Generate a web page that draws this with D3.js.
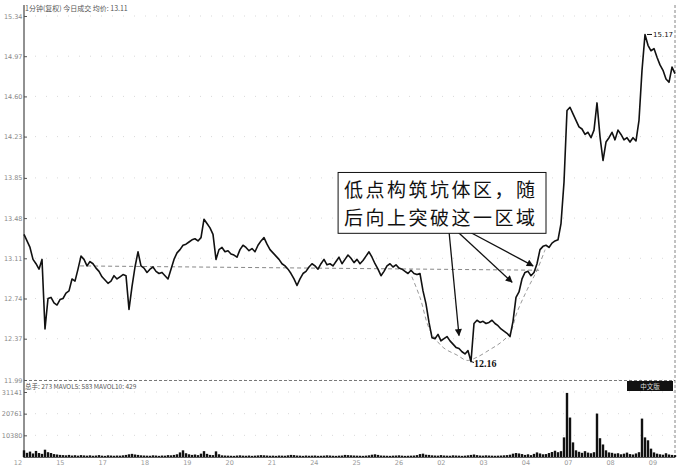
<!DOCTYPE html>
<html><head><meta charset="utf-8">
<script src="https://cdn.jsdelivr.net/npm/d3@7"></script>
<style>body{margin:0;background:#fff}svg{display:block}</style>
</head><body>
<svg id="c" width="682" height="471"></svg>
<script>
// ---- data ----
const priceData = [
13.33,13.27,13.21,13.10,13.06,13.01,13.10,12.46,12.74,12.75,
12.70,12.68,12.73,12.74,12.79,12.81,12.92,12.90,13.01,13.13,
13.10,13.04,13.08,13.06,13.02,12.99,12.94,12.91,12.88,12.90,
12.95,12.92,12.94,12.96,12.95,12.64,12.85,13.03,13.17,13.04,
13.02,12.98,13.01,13.03,12.99,12.97,12.98,12.95,12.92,13.01,
13.10,13.16,13.19,13.23,13.24,13.26,13.28,13.29,13.27,13.30,
13.47,13.43,13.39,13.33,13.10,13.19,13.21,13.17,13.18,13.15,
13.14,13.12,13.19,13.23,13.21,13.18,13.20,13.17,13.23,13.27,
13.30,13.24,13.19,13.16,13.13,13.10,13.06,13.04,13.01,12.97,
12.92,12.86,12.92,12.97,12.99,13.03,13.06,13.04,13.01,13.06,
13.10,13.05,13.06,13.04,13.08,13.12,13.06,13.10,13.14,13.11,
13.07,13.10,13.06,13.09,13.13,13.17,13.12,13.06,13.01,12.95,
12.99,13.04,13.06,13.03,13.05,13.02,13.01,12.99,12.97,13.00,
12.97,12.96,12.97,12.81,12.69,12.52,12.38,12.37,12.41,12.35,
12.37,12.39,12.35,12.32,12.29,12.28,12.25,12.23,12.26,12.16,
12.51,12.54,12.52,12.53,12.51,12.52,12.54,12.51,12.49,12.46,
12.44,12.42,12.39,12.53,12.75,12.80,12.92,12.98,12.99,12.95,
12.98,13.06,13.19,13.22,13.23,13.21,13.25,13.27,13.28,13.43,
13.81,14.47,14.50,14.44,14.38,14.32,14.30,14.25,14.27,14.22,
14.29,14.54,14.23,14.01,14.18,14.22,14.27,14.20,14.29,14.25,
14.20,14.22,14.18,14.22,14.19,14.38,14.84,15.17,15.07,15.02,
15.04,14.96,14.89,14.84,14.76,14.73,14.87,14.81
];
const volumeData = [
3200,2000,2600,1700,2900,1900,1500,3500,2300,1900,
1400,1200,1000,900,800,1000,700,850,650,900,
750,650,800,600,700,900,650,550,800,700,
600,700,650,800,1000,1300,1500,1200,1000,800,
700,650,600,800,700,550,700,650,900,800,
1000,1300,2200,3200,1800,1300,1000,1200,900,1600,
2800,1500,1000,900,2700,1300,800,700,650,600,
550,700,800,650,600,700,550,650,750,900,
800,700,600,650,550,700,650,600,800,1000,
900,700,650,550,700,600,650,700,550,600,
650,800,700,600,550,650,700,1000,900,800,
700,650,600,550,650,800,1100,1300,1000,700,
650,600,550,650,700,800,650,550,600,650,
700,900,1400,1600,1100,1000,800,700,650,900,
700,650,600,800,700,650,550,650,800,1000,
1200,900,700,650,800,700,650,600,650,700,
800,900,1100,1600,1900,1700,1400,1000,1300,900,
1500,2200,1700,1300,1400,1900,2400,3000,2300,2800,
9400,30700,18900,7000,3200,2500,2000,2800,2100,1800,
2300,20800,9000,6000,3200,2200,2000,1600,1800,1300,
1600,2100,1400,1200,1700,2300,18400,9400,8000,4000,
2200,1600,1300,1100,1800,1200,1000,900
];
const priceTicks = [15.34,14.97,14.60,14.23,13.85,13.48,13.11,12.74,12.37,11.99];
const volTicks = [31141,20761,10380];
const dayLabels = ["12","15","17","18","19","20","21","24","25","26","02","03","04","07","08","09"];
const samplesPerDay = 14.11, firstDayOffset = -2;
const refLine = [[18.7,13.04],[172.7,13.00]];
const cupCurve = [[129.3,12.94],[132,12.75],[135.3,12.45],[139.7,12.29],[144.3,12.22],[147.7,12.17],[151,12.20],[155.3,12.27],[158.7,12.33],[162,12.42],[164.3,12.61],[167.7,12.82],[171,13.00],[173.7,13.19]];
const noteLines = ["低点构筑坑体区，随","后向上突破这一区域"];
const noteBox = {i0:104.7, i1:174, p0:13.90, p1:13.34};
const arrows = [[[141.7,13.35],[145,12.40]],[[144.7,13.35],[162.7,12.89]],[[148.7,13.35],[169.7,13.04]]];
const headerText = "1分钟(复权) 今日成交 均价: 13.11";
const volHeader = "总手: 273 MAVOL5: 583 MAVOL10: 429";

// ---- drawing ----
const svg = d3.select("#c");
const L = 24, R = 675;
const x = d3.scaleLinear().domain([0, priceData.length-1]).range([L, R]);
const y = d3.scaleLinear().domain([11.99, 15.34]).range([380, 16]);
const yv = d3.scaleLinear().domain([0, 31141]).range([457, 392]);

// faint dotted grid
svg.append("g").selectAll("line").data(priceTicks).join("line")
  .attr("x1", L).attr("x2", R).attr("y1", d=>y(d)).attr("y2", d=>y(d))
  .attr("stroke", "#c8c8c8").attr("stroke-width", 0.7).attr("stroke-dasharray", "1,10");
svg.append("g").selectAll("line").data(volTicks).join("line")
  .attr("x1", L).attr("x2", R).attr("y1", d=>yv(d)).attr("y2", d=>yv(d))
  .attr("stroke", "#c8c8c8").attr("stroke-width", 0.7).attr("stroke-dasharray", "1,10");

// frame
svg.append("line").attr("x1", L).attr("x2", L).attr("y1", 5).attr("y2", 458).attr("stroke", "#222").attr("stroke-width", 1);
svg.append("line").attr("x1", R).attr("x2", R).attr("y1", 5).attr("y2", 458).attr("stroke", "#666").attr("stroke-width", 0.8).attr("stroke-dasharray", "3,2");
svg.append("line").attr("x1", L).attr("x2", R).attr("y1", 380.5).attr("y2", 380.5).attr("stroke", "#555").attr("stroke-width", 0.8).attr("stroke-dasharray", "3,2");
svg.append("line").attr("x1", L).attr("x2", R).attr("y1", 457.5).attr("y2", 457.5).attr("stroke", "#333").attr("stroke-width", 0.8);

// y axes
const ya = svg.append("g").attr("transform", `translate(${L},0)`)
  .call(d3.axisLeft(y).tickValues(priceTicks).tickFormat(d3.format(".2f")).tickSize(-3));
ya.select(".domain").remove();
ya.selectAll("line").attr("stroke", "#555");
ya.selectAll("text").attr("font-family", "DejaVu Sans").attr("font-size", 6.5).attr("fill", "#888").attr("x", -1.5);
const yva = svg.append("g").attr("transform", `translate(${L},0)`)
  .call(d3.axisLeft(yv).tickValues(volTicks).tickFormat(d3.format("d")).tickSize(-3));
yva.select(".domain").remove();
yva.selectAll("line").attr("stroke", "#555");
yva.selectAll("text").attr("font-family", "DejaVu Sans").attr("font-size", 6.5).attr("fill", "#888").attr("x", -1.5);

// x labels
svg.append("g").selectAll("text").data(dayLabels).join("text")
  .attr("x", (d,i)=>x(firstDayOffset + i*samplesPerDay)).attr("y", 465)
  .attr("text-anchor", "middle").attr("font-family", "DejaVu Sans").attr("font-size", 6.5).attr("fill", "#999").text(d=>d);

// headers
svg.append("text").attr("x", 25).attr("y", 11).attr("font-family", "Noto Sans CJK SC").attr("font-size", 7).attr("fill", "#555").text(headerText);
svg.append("text").attr("x", 25).attr("y", 389).attr("font-family", "Noto Sans CJK SC").attr("font-size", 6.5).attr("fill", "#555").text(volHeader);
svg.append("rect").attr("x", 627).attr("y", 381).attr("width", 46).attr("height", 10).attr("fill", "#111");
svg.append("text").attr("x", 650).attr("y", 389).attr("text-anchor", "middle").attr("font-family", "Noto Sans CJK SC").attr("font-size", 6.5).attr("fill", "#ddd").text("中文版");

// volume bars
svg.append("g").selectAll("rect").data(volumeData).join("rect")
  .attr("x", (d,i)=>x(i)-1.2).attr("width", 2.4)
  .attr("y", d=>yv(d)).attr("height", d=>457-yv(d)).attr("fill", "#111");

// reference dashed lines
svg.append("path").datum(refLine).attr("fill", "none").attr("stroke", "#888").attr("stroke-width", 1).attr("stroke-dasharray", "4,3")
  .attr("d", d3.line().x(d=>x(d[0])).y(d=>y(d[1])));
svg.append("path").datum(cupCurve).attr("fill", "none").attr("stroke", "#999").attr("stroke-width", 1).attr("stroke-dasharray", "4,3")
  .attr("d", d3.line().curve(d3.curveCatmullRom).x(d=>x(d[0])).y(d=>y(d[1])));

// price line
svg.append("path").datum(priceData).attr("fill", "none").attr("stroke", "#111").attr("stroke-width", 1.6).attr("stroke-linejoin", "round")
  .attr("d", d3.line().x((d,i)=>x(i)).y(d=>y(d)));

// high/low labels
const hiI = d3.maxIndex(priceData), loI = d3.minIndex(priceData);
svg.append("line").attr("x1", x(hiI)+2).attr("x2", x(hiI)+7).attr("y1", y(priceData[hiI])).attr("y2", y(priceData[hiI])).attr("stroke", "#111");
svg.append("text").attr("x", x(hiI)+8).attr("y", y(priceData[hiI])+3).attr("font-family", "DejaVu Sans").attr("font-size", 7).attr("fill", "#111").text(priceData[hiI].toFixed(2));
svg.append("line").attr("x1", x(loI)).attr("x2", x(loI)+3).attr("y1", y(priceData[loI])).attr("y2", y(priceData[loI])+1).attr("stroke", "#111");
svg.append("text").attr("x", x(loI)+3).attr("y", y(priceData[loI])+5).attr("font-family", "Liberation Serif").attr("font-weight", "bold").attr("font-size", 10).attr("fill", "#111").text(priceData[loI].toFixed(2));

// annotation
const defs = svg.append("defs");
defs.append("marker").attr("id", "ah").attr("viewBox", "0 0 10 10").attr("refX", 9).attr("refY", 5)
  .attr("markerWidth", 9).attr("markerHeight", 7).attr("orient", "auto-start-reverse").attr("markerUnits", "userSpaceOnUse")
  .append("path").attr("d", "M0,0 L10,5 L0,10 z").attr("fill", "#111");
svg.append("g").selectAll("line").data(arrows).join("line")
  .attr("x1", d=>x(d[0][0])).attr("y1", d=>y(d[0][1])).attr("x2", d=>x(d[1][0])).attr("y2", d=>y(d[1][1]))
  .attr("stroke", "#111").attr("stroke-width", 1.3).attr("marker-end", "url(#ah)");
const bx0 = x(noteBox.i0), bx1 = x(noteBox.i1), by0 = y(noteBox.p0), by1 = y(noteBox.p1);
svg.append("rect").attr("x", bx0).attr("y", by0).attr("width", bx1-bx0).attr("height", by1-by0)
  .attr("fill", "#fff").attr("stroke", "#111").attr("stroke-width", 1);
svg.append("g").selectAll("text").data(noteLines).join("text")
  .attr("x", bx0+6).attr("y", (d,i)=>by0+25+i*28)
  .attr("font-family", "Noto Sans CJK SC").attr("font-size", 19).attr("letter-spacing", 2.5).attr("fill", "#111").text(d=>d);
</script>
</body></html>
